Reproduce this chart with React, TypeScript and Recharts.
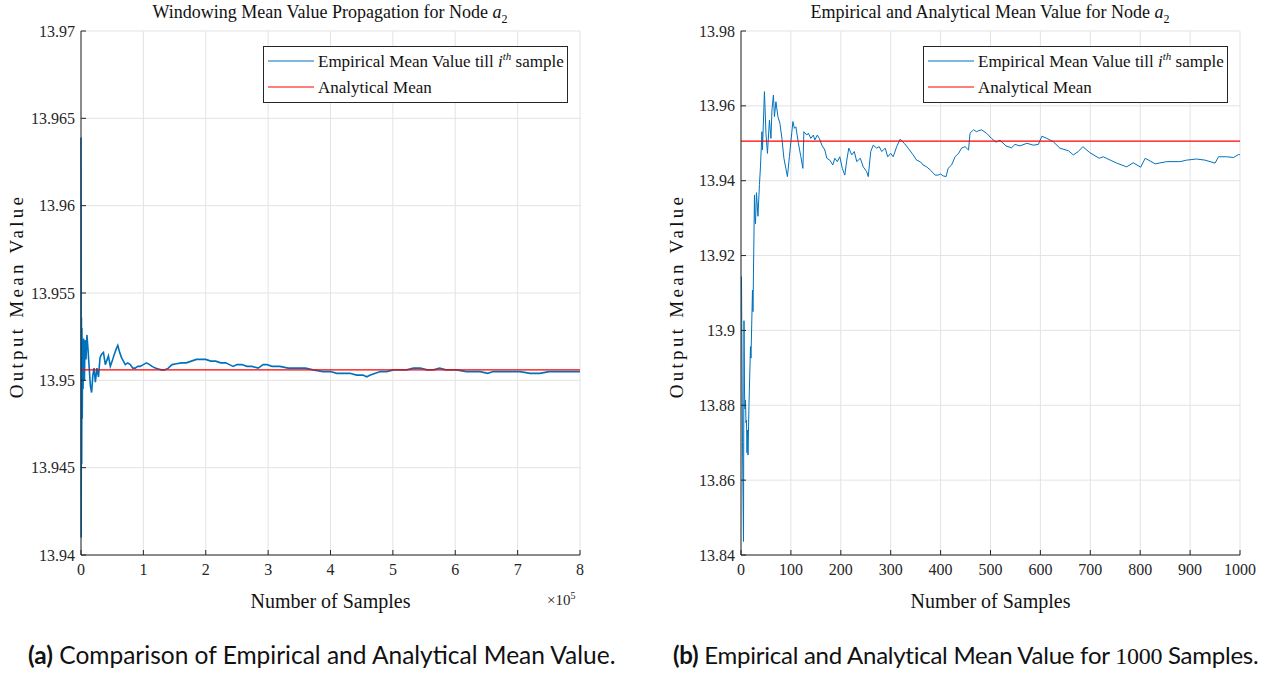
import React from 'react';
import { LineChart, Line, XAxis, YAxis, CartesianGrid, ReferenceLine } from 'recharts';

// analytical mean of node a2
const analyticalMean = 13.9506;

// (a) running mean over the whole windowed run
const fullRunSamples = [
  0, 300, 700, 1100, 1500, 2000, 2600, 3300, 4200, 5500, 6500, 8000, 9500, 11000, 13000,
  15000, 17000, 19000, 21000, 23000, 25500, 28000, 30500, 33000, 36000, 39000, 41000, 44000,
  47000, 50000, 53500, 56500, 59000, 62000, 65000, 68000, 71000, 75000, 79000, 83000, 87000,
  91000, 95000, 100000, 105000, 110000, 114000, 119000, 124000, 129000, 134000, 140000, 146000,
  153000, 161000, 169000, 177000, 185000, 192000, 200000, 208000, 216000, 224000, 232000, 238000,
  244000, 250000, 258000, 266000, 274000, 284000, 292000, 298000, 306000, 319000, 332000, 346000,
  360000, 372000, 388000, 400000, 410000, 420000, 431000, 442000, 452000, 458000, 464000, 472000,
  480000, 490000, 501000, 512000, 522000, 533000, 544000, 555000, 565000, 575000, 585000, 602000,
  618000, 630000, 640000, 652000, 661000, 670000, 677000, 690000, 704000, 720000, 736000, 750000,
  763000, 780000, 800000,
];
const fullRunMean = [
  13.9639, 13.941, 13.9536, 13.9452, 13.953, 13.9478, 13.952, 13.9495, 13.9524, 13.95, 13.9523,
  13.9512, 13.9526, 13.9519, 13.9508, 13.9497, 13.9493, 13.9503, 13.9507, 13.9499, 13.9507,
  13.9502, 13.9513, 13.9515, 13.9516, 13.9509, 13.9511, 13.9514, 13.9508, 13.9511, 13.9515,
  13.9518, 13.952, 13.9516, 13.9513, 13.9511, 13.9509, 13.951, 13.9509, 13.9507, 13.9507,
  13.9508, 13.9508, 13.9509, 13.951, 13.9509, 13.9508, 13.9507, 13.95065, 13.9506, 13.9506,
  13.9507, 13.9509, 13.95095, 13.951, 13.951, 13.9511, 13.9512, 13.9512, 13.9512, 13.9511,
  13.9511, 13.951, 13.951, 13.9509, 13.9508, 13.9509, 13.9509, 13.9508, 13.9508, 13.9507,
  13.9509, 13.9509, 13.9508, 13.9508, 13.9507, 13.9507, 13.9507, 13.9506, 13.9505, 13.9505,
  13.9504, 13.9504, 13.9504, 13.9503, 13.9503, 13.9502, 13.9503, 13.9504, 13.9505, 13.9505,
  13.9506, 13.9506, 13.9506, 13.9507, 13.9507, 13.9506, 13.9506, 13.9507, 13.9506, 13.9506,
  13.9505, 13.9505, 13.9505, 13.9504, 13.9505, 13.9505, 13.9505, 13.9505, 13.9505, 13.9504,
  13.9504, 13.9505, 13.9505, 13.9505, 13.9505,
];

// (b) running mean over the first 1000 samples
const firstSamples = [
  1, 3, 5, 6, 7, 8, 9, 10, 11, 12, 13, 14, 16, 19, 20, 23, 24, 27, 28, 29, 31, 34, 37, 39, 42,
  43, 47, 50, 53, 57, 60, 62, 65, 67, 70, 74, 78, 82, 86, 93, 97, 104, 107, 110, 115, 120, 124,
  126, 132, 135, 140, 145, 148, 153, 157, 162, 168, 172, 178, 184, 188, 193, 198, 203, 208, 212,
  216, 222, 227, 232, 239, 245, 252, 255, 260, 265, 272, 277, 282, 289, 294, 300, 305, 312, 319,
  327, 335, 345, 352, 360, 365, 372, 380, 389, 395, 400, 405, 411, 415, 422, 429, 436, 442, 449,
  456, 459, 466, 472, 477, 482, 492, 502, 511, 519, 531, 542, 549, 559, 573, 586, 596, 603, 613,
  626, 639, 656, 666, 676, 685, 699, 718, 726, 740, 753, 773, 786, 801, 810, 830, 853, 880, 893,
  913, 930, 950, 957, 973, 987, 997, 1000,
];
const firstMean = [
  13.9144, 13.87, 13.8436, 13.9026, 13.8841, 13.879, 13.8814, 13.8753, 13.876, 13.8673, 13.8734,
  13.8667, 13.88, 13.8957, 13.8926, 13.9108, 13.905, 13.9362, 13.93, 13.9285, 13.9368, 13.9305,
  13.939, 13.9437, 13.9531, 13.9482, 13.9638, 13.9527, 13.9473, 13.9562, 13.9513, 13.9589,
  13.9629, 13.9571, 13.9611, 13.9571, 13.9553, 13.9513, 13.946, 13.9411, 13.9464, 13.9558,
  13.954, 13.9544, 13.95, 13.9464, 13.9433, 13.9531, 13.9522, 13.9527, 13.9513, 13.9522, 13.9509,
  13.9522, 13.9513, 13.9495, 13.9482, 13.946, 13.9455, 13.9442, 13.946, 13.9451, 13.9464,
  13.9433, 13.9415, 13.9455, 13.9487, 13.9469, 13.9478, 13.9451, 13.946, 13.9437, 13.9424,
  13.9411, 13.9478, 13.9495, 13.9487, 13.9491, 13.9478, 13.9487, 13.9464, 13.9473, 13.9464,
  13.9491, 13.9511, 13.95, 13.9487, 13.9469, 13.9455, 13.945, 13.9442, 13.9437, 13.9428, 13.9415,
  13.9415, 13.9418, 13.9413, 13.9411, 13.9433, 13.9442, 13.9464, 13.9473, 13.9487, 13.9491,
  13.9482, 13.9527, 13.9536, 13.9531, 13.9534, 13.9536, 13.9527, 13.9513, 13.9503, 13.9508,
  13.9493, 13.9488, 13.9497, 13.9493, 13.95, 13.9495, 13.9497, 13.9519, 13.9513, 13.9504,
  13.9487, 13.948, 13.9469, 13.9478, 13.9491, 13.9475, 13.946, 13.9464, 13.9455, 13.9447,
  13.9437, 13.9448, 13.9436, 13.946, 13.9445, 13.9451, 13.9451, 13.9455, 13.9458, 13.9455,
  13.9447, 13.9464, 13.9464, 13.9462, 13.947, 13.9469,
];

const fullXTicks = [0, 100000, 200000, 300000, 400000, 500000, 600000, 700000, 800000];
const fullYTicks = [13.94, 13.945, 13.95, 13.955, 13.96, 13.965, 13.97];
const firstXTicks = [0, 100, 200, 300, 400, 500, 600, 700, 800, 900, 1000];
const firstYTicks = [13.84, 13.86, 13.88, 13.9, 13.92, 13.94, 13.96, 13.98];

const SERIF = '"Liberation Serif", "DejaVu Serif", serif';
const AXIS = '#262626';
const BLUE = '#0072BD';
const RED = '#FF0000';

const formatMean = (v: number) => String(+v.toFixed(3));

// serif tick labels
const makeTick = (format: (v: number) => string, side: 'x' | 'y') => (props: any) => {
  const { x, y, payload } = props;
  return (
    <text
      x={x}
      y={y}
      dy={side === 'x' ? '0.75em' : '0.35em'}
      textAnchor={side === 'x' ? 'middle' : 'end'}
      fill={AXIS}
      style={{ fontFamily: SERIF, fontSize: 16 }}
    >
      {format(payload.value)}
    </text>
  );
};

const LegendSwatch = ({ color, top }: { color: string; top: number }) => (
  <svg width={46} height={4} style={{ position: 'absolute', left: 4, top }}>
    <line x1={0} x2={46} y1={2} y2={2} stroke={color} strokeWidth={1.2} />
  </svg>
);

interface PanelProps {
  left: number;
  title: React.ReactNode;
  data: { x: number; y: number }[];
  xTicks: number[];
  yTicks: number[];
  xFormat: (v: number) => string;
  strokeWidth: number;
  exponent?: boolean;
}

const Panel = ({ left, title, data, xTicks, yTicks, xFormat, strokeWidth, exponent }: PanelProps) => (
  <div style={{ position: 'absolute', left, top: 0, width: 600, height: 620 }}>
    <LineChart width={600} height={600} data={data} margin={{ top: 31, right: 20, bottom: 15, left: 21 }}>
      <CartesianGrid stroke="#e3e3e3" strokeWidth={1} />
      <XAxis
        type="number"
        dataKey="x"
        domain={[xTicks[0], xTicks[xTicks.length - 1]]}
        ticks={xTicks}
        height={30}
        stroke={AXIS}
        tick={makeTick(xFormat, 'x')}
        tickSize={-5}
        tickMargin={13}
        interval={0}
      />
      <YAxis
        type="number"
        domain={[yTicks[0], yTicks[yTicks.length - 1]]}
        ticks={yTicks}
        width={60}
        stroke={AXIS}
        tick={makeTick(formatMean, 'y')}
        tickSize={-5}
        tickMargin={11}
        interval={0}
        allowDataOverflow
      />
      <Line type="linear" dataKey="y" stroke={BLUE} strokeWidth={strokeWidth} dot={false} isAnimationActive={false} />
      <ReferenceLine y={analyticalMean} stroke={RED} strokeWidth={1.3} />
    </LineChart>

    <div style={{ position: 'absolute', left: 0, width: 660, top: 2, textAlign: 'center', fontFamily: SERIF, fontSize: 18, color: '#111' }}>
      {title}
    </div>

    <div
      style={{
        position: 'absolute', left: 263, top: 46, width: 305, height: 57, boxSizing: 'border-box',
        border: `1px solid ${AXIS}`, background: '#fff', fontFamily: SERIF, fontSize: 17, color: '#111',
      }}
    >
      <LegendSwatch color={BLUE} top={12} />
      <div style={{ position: 'absolute', left: 54, top: 3, whiteSpace: 'nowrap' }}>
        Empirical Mean Value till <i>i</i><sup style={{ fontSize: 11 }}><i>th</i></sup> sample
      </div>
      <LegendSwatch color={RED} top={38} />
      <div style={{ position: 'absolute', left: 54, top: 31, whiteSpace: 'nowrap' }}>Analytical Mean</div>
    </div>

    <div style={{ position: 'absolute', left: 81, width: 499, top: 590, textAlign: 'center', fontFamily: SERIF, fontSize: 20, color: '#111' }}>
      Number of Samples
    </div>
    {exponent && (
      <div style={{ position: 'absolute', left: 547, top: 590, fontFamily: SERIF, fontSize: 15, color: AXIS }}>
        ×10<sup style={{ fontSize: 10 }}>5</sup>
      </div>
    )}
    <div
      style={{
        position: 'absolute', left: 17, top: 296, transform: 'translate(-50%, -50%) rotate(-90deg)',
        whiteSpace: 'nowrap', fontFamily: SERIF, fontSize: 19, letterSpacing: 3.3, color: '#111',
      }}
    >
      Output Mean Value
    </div>
  </div>
);

const fullData = fullRunSamples.map((x, i) => ({ x, y: fullRunMean[i] }));
const firstData = firstSamples.map((x, i) => ({ x, y: firstMean[i] }));

const captionStyle: React.CSSProperties = {
  position: 'absolute', top: 640, whiteSpace: 'nowrap', fontFamily: 'Lato, "Noto Sans", sans-serif', fontSize: 24.5, color: '#111',
};

export default function App() {
  return (
    <div style={{ position: 'absolute', left: 0, top: 0, width: 1278, height: 675, overflow: 'hidden', background: '#fff' }}>
      <Panel
        left={0}
        title={<>Windowing Mean Value Propagation for Node <i>a</i><sub style={{ fontSize: 12 }}>2</sub></>}
        data={fullData}
        xTicks={fullXTicks}
        yTicks={fullYTicks}
        xFormat={(v) => String(v / 100000)}
        strokeWidth={1.6}
        exponent
      />
      <Panel
        left={660}
        title={<>Empirical and Analytical Mean Value for Node <i>a</i><sub style={{ fontSize: 12 }}>2</sub></>}
        data={firstData}
        xTicks={firstXTicks}
        yTicks={firstYTicks}
        xFormat={(v) => String(v)}
        strokeWidth={1}
      />
      <div style={{ ...captionStyle, left: 28 }}>
        <b>(a)</b> Comparison of Empirical and Analytical Mean Value.
      </div>
      <div style={{ ...captionStyle, left: 673, fontSize: 24, letterSpacing: -0.25 }}>
        <b>(b)</b> Empirical and Analytical Mean Value for <span style={{ fontFamily: SERIF }}>1000</span> Samples.
      </div>
    </div>
  );
}
